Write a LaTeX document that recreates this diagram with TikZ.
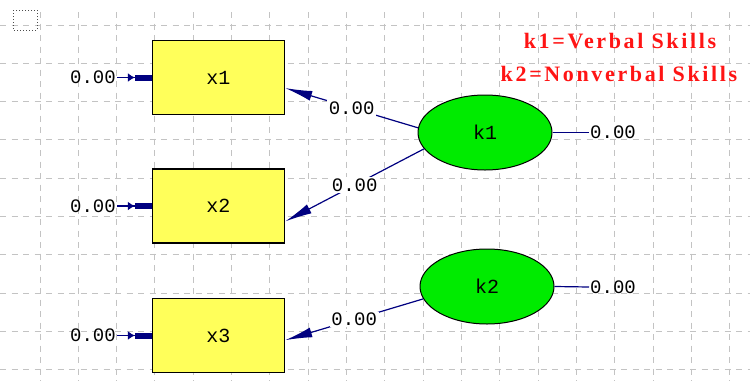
\documentclass[tikz,border=0pt]{standalone}
\usepackage{fontspec}
\setmainfont{Liberation Serif}
\setmonofont{Liberation Mono}
\newfontfamily\legendfont[LetterSpace=12]{Liberation Serif}
\usetikzlibrary{shapes.geometric,arrows.meta}
\definecolor{navyblue}{RGB}{0,0,128}
\definecolor{boxyellow}{RGB}{255,255,90}
\definecolor{latgreen}{RGB}{0,235,0}
\definecolor{gridgray}{RGB}{195,195,195}
\definecolor{legendred}{RGB}{255,20,20}
\tikzset{
  gridline/.style={draw=gridgray, line width=1pt, dash pattern=on 6pt off 5.5pt},
  obsbox/.style={draw=black, line width=1.5pt, fill=boxyellow, minimum width=132pt, minimum height=74pt, inner sep=0pt, font=\ttfamily\fontsize{20}{20}\selectfont},
  latent/.style={ellipse, draw=black, line width=1pt, fill=latgreen, minimum width=134pt, minimum height=75pt, inner sep=0pt, font=\ttfamily\fontsize{20}{20}\selectfont},
  val/.style={font=\ttfamily\fontsize{19}{19}\selectfont, inner sep=1pt},
  pathlabel/.style={val, fill=white, inner sep=1.5pt},
  patharrow/.style={draw=navyblue, line width=1.2pt, -{Latex[length=27pt,width=10pt]}},
  inarrow/.style={draw=navyblue, line width=1.2pt, -{Latex[length=7pt,width=9pt] Rectangle[length=17pt,width=6pt]}},
  errline/.style={draw=navyblue, line width=1.2pt},
  legend/.style={text=legendred, font=\legendfont\bfseries\fontsize{22}{22}\selectfont, inner sep=0pt},
}
\begin{document}
\begin{tikzpicture}[x=1pt,y=-1pt]
\useasboundingbox (0,0) rectangle (756,381);
% grid
\foreach \i in {0,...,18} {
  \draw[gridline] ({40+38.33*\i},12) -- ({40+38.33*\i},381);
}
\foreach \j in {0,...,9} {
  \draw[gridline] (0,{25+38.33*\j}) -- (750,{25+38.33*\j});
}
% small dotted square
\draw[black!70, line width=1pt, dotted] (13,10) rectangle (37,30);
% observed variables
\node[obsbox] (x1) at (218.5,77.5) {x1};
\node[obsbox] (x2) at (218.5,206) {x2};
\node[obsbox] (x3) at (218.5,335.5) {x3};
% latent variables
\node[latent] (k1) at (485,132.5) {k1};
\node[latent] (k2) at (487,286.5) {k2};
% error values on observed
\node[val, anchor=east] (e1) at (117,77.5) {0.00};
\node[val, anchor=east] (e2) at (117,206) {0.00};
\node[val, anchor=east] (e3) at (117,335.5) {0.00};
\draw[inarrow] (e1.east) -- (x1.west);
\draw[inarrow] (e2.east) -- (x2.west);
\draw[inarrow] (e3.east) -- (x3.west);
% latent variances
\node[val, anchor=west] (d1) at (589,132.5) {0.00};
\node[val, anchor=west] (d2) at (589,287) {0.00};
\draw[errline] (k1.east) -- (d1.west);
\draw[errline] (k2.east) -- (d2.west);
% loadings
\draw[patharrow] (k1.176) -- node[pathlabel] (l1) {0.00} (x1.-9);
\draw[patharrow] (k1.195) -- node[pathlabel] (l2) {0.00} (x2.-13.5);
\draw[patharrow] (k2.191) -- node[pathlabel] (l3) {0.00} (x3.-4);
% legend
\node[legend] (leg1) at (620,41) {k1=Verbal Skills};
\node[legend] (leg2) at (619,74) {k2=Nonverbal Skills};
\end{tikzpicture}
\end{document}
